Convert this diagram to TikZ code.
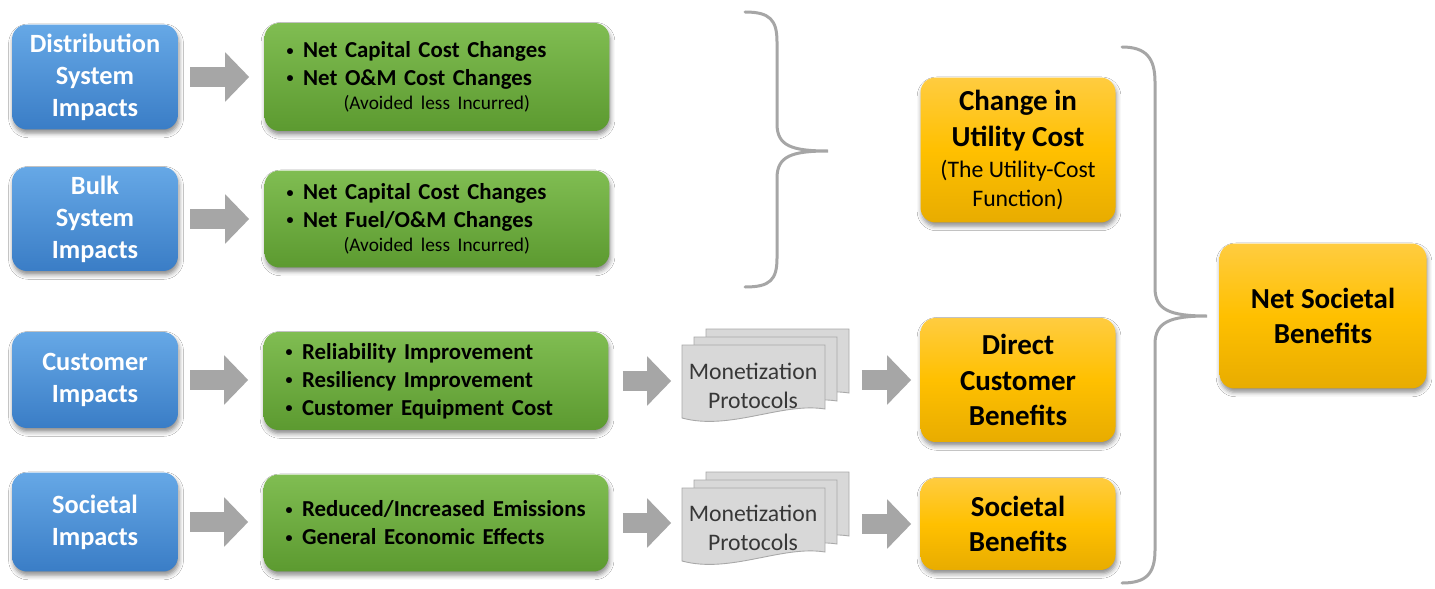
\documentclass[tikz,border=0pt]{standalone}
\usepackage{fontspec}
\setmainfont{Carlito}
\usepackage{tikz}
\usetikzlibrary{arrows.meta,shadows.blur}
\definecolor{cBlueTop}{RGB}{102,168,230}
\definecolor{cBlueBot}{RGB}{58,125,198}
\definecolor{cGrnTop}{RGB}{128,189,82}
\definecolor{cGrnBot}{RGB}{92,154,48}
\definecolor{cOrgTop}{RGB}{255,204,64}
\definecolor{cOrgMid}{RGB}{255,192,0}
\definecolor{cOrgBot}{RGB}{232,172,0}
\definecolor{cArrow}{RGB}{166,166,166}
\definecolor{cSheet}{RGB}{216,216,216}
\definecolor{cSheetEdge}{RGB}{168,168,168}
\definecolor{cBrace}{RGB}{166,166,166}
\definecolor{cProt}{RGB}{55,55,55}
\newcommand\subnote[1]{{\fontsize{13.5}{16.5}\selectfont\mdseries #1}}
\newcommand\bul{\hspace*{0.44cm}\raisebox{0.22ex}{\fontsize{8}{8}\selectfont•}\hspace{0.42em}}
\newcommand\avoided{\hspace*{1.58cm}{\fontsize{11}{13}\selectfont\mdseries (Avoided less Incurred)}}

\begin{document}
\begin{tikzpicture}[x=0.02cm,y=-0.02cm,
  box/.style={rounded corners=0.3cm,inner sep=0pt,
    blur shadow={shadow xshift=0.6pt,shadow yshift=-2.2pt,shadow blur radius=2.5pt,shadow opacity=45}},
  impact/.style={box,top color=cBlueTop,bottom color=cBlueBot,text=white,
    font=\fontsize{15}{18.3}\selectfont\bfseries,align=center,minimum width=3.32cm},
  effect/.style={box,top color=cGrnTop,bottom color=cGrnBot,
    font=\fontsize{13}{15.9}\selectfont\bfseries,align=left,text width=6.9cm},
  result/.style={box,top color=cOrgTop,bottom color=cOrgBot,middle color=cOrgMid,
    font=\fontsize{16.5}{20.2}\selectfont\bfseries,align=center,minimum width=3.9cm},
  protocol/.style={text=cProt,font=\fontsize{13.5}{16.5}\selectfont,align=center,
    minimum width=2.86cm,inner sep=0pt},
  docsheet/.style={fill=cSheet,draw=cSheetEdge,line width=0.5pt},
  blockarrow/.style={draw=cArrow,line width=0.4cm,-{Triangle[length=0.48cm,width=0.96cm]}},
  curly/.style={draw=cBrace,line width=0.06cm,line cap=round}]
  \path[use as bounding box,fill=white] (0,0) rectangle (1435,588);

  % impacts
  \node[impact,minimum height=2.1cm]  (dist) at (95,77)  {Distribution\\System\\Impacts};
  \node[impact,minimum height=2.08cm] (bulk) at (95,219) {Bulk\\System\\Impacts};
  \node[impact,minimum height=1.92cm] (cust) at (95,380) {Customer\\Impacts};
  \node[impact,minimum height=1.98cm] (soc)  at (95,522) {Societal\\Impacts};

  % what changes
  \node[effect,minimum height=2.16cm] (capom) at (437,77)
    {\bul Net Capital Cost Changes\\\bul Net O\&M Cost Changes\\[-2pt]\avoided};
  \node[effect,minimum height=1.94cm] (capfuel) at (437,219)
    {\bul Net Capital Cost Changes\\\bul Net Fuel/O\&M Changes\\[-2pt]\avoided};
  \node[effect,minimum height=1.96cm] (relres) at (436,381)
    {\bul Reliability Improvement\\\bul Resiliency Improvement\\\bul Customer Equipment Cost};
  \node[effect,minimum height=1.94cm] (emis) at (436,523)
    {\bul Reduced/Increased Emissions\\\bul General Economic Effects};

  % monetization stacks
  \foreach \y in {345,488}
    \foreach \k in {2,1,0}
      \draw[docsheet,shift={(682+12*\k,\y-8*\k)}]
        (0,0) -- (143,0) -- (143,64) .. controls (100,57) and (48,86) .. (0,73) -- cycle;
  \node[protocol] (mon1) at (753,386) {Monetization\\Protocols};
  \node[protocol] (mon2) at (753,528) {Monetization\\Protocols};

  % benefits
  \node[result,minimum height=2.9cm]  (util) at (1018,150)
    {Change in\\Utility Cost\\[-2.6pt]\subnote{(The Utility-Cost}\\[-3.7pt]\subnote{Function)}};
  \node[result,minimum height=2.48cm] (direct) at (1018,380) {Direct\\Customer\\Benefits};
  \node[result,minimum height=1.84cm] (socben) at (1018,524) {Societal\\Benefits};
  \node[result,minimum width=4.14cm,minimum height=2.9cm] (net) at (1323,316) {Net Societal\\Benefits};

  % block arrows
  \draw[blockarrow,shorten <=0.24cm,shorten >=0.3cm] (dist.east) -- (dist.east -| capom.west);
  \draw[blockarrow,shorten <=0.24cm,shorten >=0.3cm] (bulk.east) -- (bulk.east -| capfuel.west);
  \draw[blockarrow,shorten <=0.24cm,shorten >=0.3cm] (cust.east) -- (cust.east -| relres.west);
  \draw[blockarrow,shorten <=0.24cm,shorten >=0.3cm] (soc.east) -- (soc.east -| emis.west);
  \draw[blockarrow,shorten <=0.28cm,shorten >=0.2cm] (relres.east) -- (relres.east -| mon1.west);
  \draw[blockarrow,shorten <=0.28cm,shorten >=0.2cm] (emis.east) -- (emis.east -| mon2.west);
  \draw[blockarrow,shorten <=0.74cm,shorten >=0.18cm] (direct.west -| mon1.east) -- (direct.west);
  \draw[blockarrow,shorten <=0.74cm,shorten >=0.18cm] (socben.west -| mon2.east) -- (socben.west);

  % braces
  \draw[curly] (745,12) .. controls (770,12) and (777,20) .. (777,42) -- (777,124)
    .. controls (777,146) and (792,151) .. (828,151)
    .. controls (792,151) and (777,156) .. (777,178) -- (777,258)
    .. controls (777,280) and (770,287) .. (745,287);
  \draw[curly] (1122,47) .. controls (1146,47) and (1155,58) .. (1155,82) -- (1155,288)
    .. controls (1155,310) and (1170,316) .. (1207,316)
    .. controls (1170,316) and (1155,322) .. (1155,344) -- (1155,550)
    .. controls (1155,574) and (1146,583) .. (1122,583);
\end{tikzpicture}
\end{document}
